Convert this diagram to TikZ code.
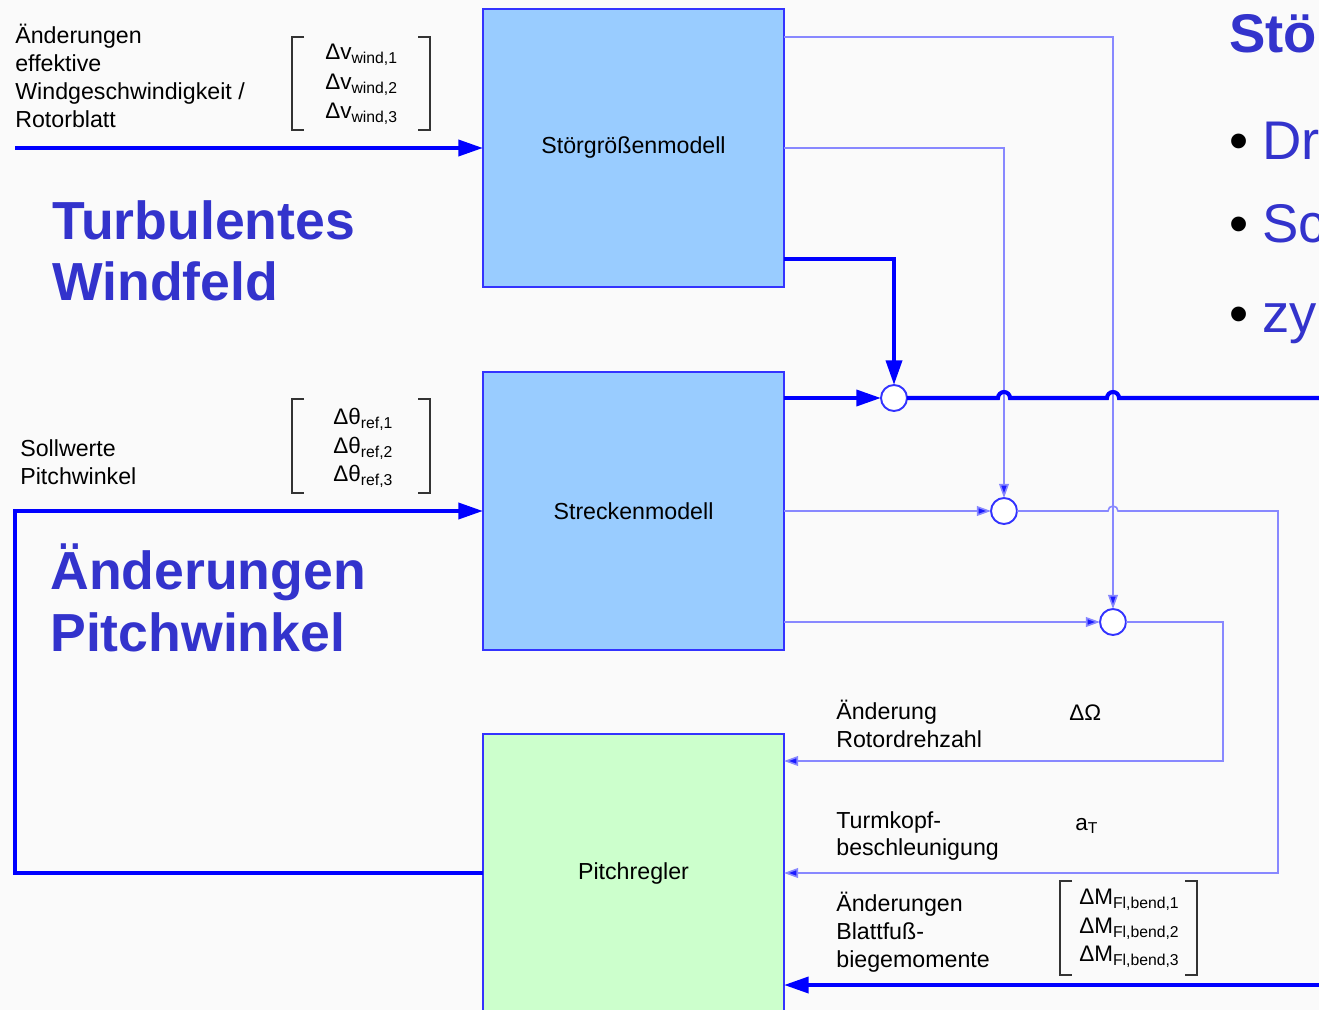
\documentclass[tikz,border=0pt]{standalone}
\usepackage{fontspec}
\setmainfont{Liberation Sans}
\usetikzlibrary{arrows.meta,calc}
\definecolor{txtblue}{RGB}{51,51,204}
\definecolor{lblue}{RGB}{136,136,255}
\definecolor{boxblue}{RGB}{153,204,255}
\definecolor{boxgreen}{RGB}{204,255,204}
\definecolor{edgeblue}{RGB}{51,51,255}
\begin{document}
\begin{tikzpicture}[x=0.02cm,y=-0.02cm,
 blk/.style={draw=edgeblue,line width=0.9pt,minimum width=6.02cm,minimum height=5.56cm,inner sep=0,outer sep=0,font=\fontsize{13.2}{15.9}\selectfont},
 sumpt/.style={circle,draw=edgeblue,line width=1.1pt,fill=white,minimum size=0.52cm,inner sep=0,outer sep=0},
 thickln/.style={draw=blue,line width=2.3pt},
 thinln/.style={draw=lblue,line width=0.9pt},
 bigtip/.style={-{Triangle[length=14pt,width=9pt]}},
 smalltip/.style={-{Triangle[length=8pt,width=5.5pt,fill=blue!80!lblue]}},
 lbl/.style={anchor=west,align=left,inner sep=0,font=\fontsize{13.2}{15.9}\selectfont},
 head/.style={anchor=west,align=left,inner sep=0,text=txtblue,font=\fontsize{30.5}{35}\selectfont\bfseries},
 vec/.style={anchor=west,inner sep=0,font=\fontsize{12.8}{14}\selectfont},
 brk/.style={draw=black!80,line width=0.7pt},
 big/.style={anchor=base west,inner sep=0,font=\fontsize{31}{35}\selectfont}]
\useasboundingbox (0,0) rectangle (1319,1010);
\clip (0,0) rectangle (1319,1010);
\fill[white!98!black] (0,0) rectangle (1319,1010);

% blocks
\node[blk,fill=boxblue] (sg) at (633.5,148) {Störgrößenmodell};
\node[blk,fill=boxblue] (sm) at (633.5,511) {Streckenmodell};
\node[blk,fill=boxgreen] (pr) at (633.5,873) {Pitchregler};

% summing points
\node[sumpt] (c1) at (894,398) {};
\node[sumpt] (c2) at (1004,511) {};
\node[sumpt] (c3) at (1113,622) {};

% coordinates
\coordinate (s1) at (784,37);
\coordinate (s3) at (784,259);
\coordinate (in1) at (15,148);
\coordinate (lc) at (15,511);
\coordinate (r2) at (1278,511);
\coordinate (r3) at (1223,761);
\coordinate (pr2) at (784,761);
\coordinate (bm) at (1330,985);

% thin connectors
\draw[thinln,smalltip] (s1) -| (c3.north);
\draw[thinln,smalltip] (sg.east) -| (c2.north);
\draw[thinln,smalltip] (sm.east) -- (c2.west);
\draw[thinln,smalltip] (sm.east |- c3) -- (c3.west);
\draw[thinln,smalltip] (c2.east) -- (1108,511) arc[start angle=180,end angle=0,radius=0.1cm] -- (r2) |- (pr.east);
\draw[thinln,smalltip] (c3.east) -| (r3) -- (pr2);

% thick connectors
\draw[thickln,bigtip] (in1) -- (sg.west);
\draw[thickln,bigtip] (s3) -| (c1.north);
\draw[thickln,bigtip] (sm.east |- c1) -- (c1.west);
\draw[thickln] (c1.east) -- (998,398) arc[start angle=180,end angle=0,radius=0.12cm] -- (1107,398) arc[start angle=180,end angle=0,radius=0.12cm] -- (1330,398);
\draw[thickln,bigtip,line join=miter] (pr.west) -| (lc) -- (sm.west);
\draw[thickln,bigtip] (bm) -- (pr.east |- bm);

% left labels
\node[lbl] (t1) at (15,76) {Änderungen\\effektive\\Windgeschwindigkeit /\\Rotorblatt};
\draw[brk] (304,37) -- (292,37) -- (292,130) -- (304,130);
\draw[brk] (418,37) -- (430,37) -- (430,130) -- (418,130);
\node[vec] (v1) at (325,55) {Δv\textsubscript{wind,1}};
\node[vec] (v2) at (325,85) {Δv\textsubscript{wind,2}};
\node[vec] (v3) at (325,114) {Δv\textsubscript{wind,3}};
\node[head] (h1) at (52,251) {Turbulentes\\Windfeld};

\node[lbl] (t2) at (20,462) {Sollwerte\\Pitchwinkel};
\draw[brk] (304,399) -- (292,399) -- (292,493) -- (304,493);
\draw[brk] (418,399) -- (430,399) -- (430,493) -- (418,493);
\node[vec] (p1) at (333,419) {Δθ\textsubscript{ref,1}};
\node[vec] (p2) at (333,448) {Δθ\textsubscript{ref,2}};
\node[vec] (p3) at (333,476) {Δθ\textsubscript{ref,3}};
\node[head] (h2) at (50,598) {Änderungen\\Pitchwinkel};

% right labels
\node[lbl] (t3) at (836,724) {Änderung\\Rotordrehzahl};
\node[vec] (o1) at (1069,713) {ΔΩ};
\node[lbl] (t4) at (836,836) {Turmkopf-\\beschleunigung};
\node[vec] (o2) at (1075,826) {a\textsubscript{T}};
\node[lbl] (t5) at (836,932) {Änderungen\\Blattfuß-\\biegemomente};
\draw[brk] (1072,881) -- (1060,881) -- (1060,975) -- (1072,975);
\draw[brk] (1185,881) -- (1197,881) -- (1197,975) -- (1185,975);
\node[vec] (m1) at (1079,900) {ΔM\textsubscript{Fl,bend,1}};
\node[vec] (m2) at (1079,929) {ΔM\textsubscript{Fl,bend,2}};
\node[vec] (m3) at (1079,957) {ΔM\textsubscript{Fl,bend,3}};

% cut-off slide text on the right
\node[big,text=txtblue,font=\fontsize{31}{35}\selectfont\bfseries] (st) at (1229,53) {Stör};
\node[big] (b1) at (1229,160) {•};
\node[big,text=txtblue] (x1) at (1262,160) {Dr};
\node[big] (b2) at (1229,243) {•};
\node[big,text=txtblue] (x2) at (1262,243) {Sc};
\node[big] (b3) at (1229,333) {•};
\node[big,text=txtblue] (x3) at (1262,333) {zyl};
\end{tikzpicture}
\end{document}
